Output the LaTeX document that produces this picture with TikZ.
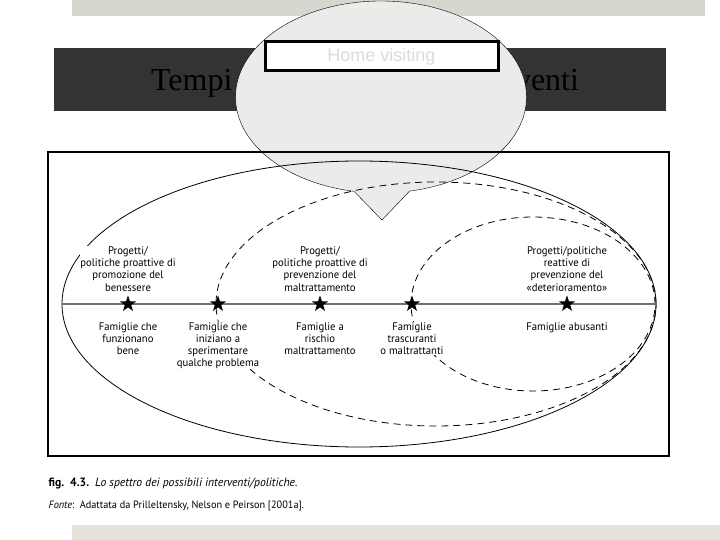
\documentclass[tikz,border=0pt]{standalone}
\usepackage{fontspec}
\usepackage{xcolor}
\usepackage{tikz}
\usetikzlibrary{positioning,shapes.geometric,shapes.callouts}
\setmainfont{Liberation Serif}
\newfontfamily\figfont[FakeStretch=0.97]{PT Sans}
\newfontfamily\boxfont{Liberation Sans}
\definecolor{barcolor}{HTML}{D6D8CF}
\definecolor{footcolor}{HTML}{E3E3DB}
\definecolor{bandcolor}{HTML}{333333}
\definecolor{bubblecolor}{HTML}{EBEBEA}
\definecolor{axiscolor}{HTML}{707070}
\definecolor{ghosttext}{HTML}{DCDCDC}

\begin{document}
\begin{tikzpicture}[x=1pt,y=-1pt,
    starmark/.style={star,star points=5,star point ratio=2.5,fill=black,inner sep=0pt,minimum size=17pt},
    uplabel/.style={font=\figfont\fontsize{11}{12.2}\selectfont,align=center,inner sep=0.5pt,fill=white},
    homebox/.style={draw,line width=3pt,fill=white,minimum width=233pt,minimum height=29pt,inner sep=0pt,
        text=ghosttext,font=\boxfont\fontsize{18}{20}\selectfont},
    dashring/.style={dash pattern=on 7pt off 5pt,line width=0.8pt}]
    \useasboundingbox (0,0) rectangle (720,540);
    % slide background
    \fill[barcolor] (72,0) rectangle (705,16);
    \fill[footcolor] (72,525) rectangle (720,540);
    \fill[bandcolor] (54,48) rectangle (666,111);
    \node[font=\fontsize{32}{38}\selectfont,anchor=base] (title) at (365,91) {Tempi e tipologie degli interventi};
    % callout
    \node[ellipse callout,draw=black,fill=bubblecolor,thin,minimum width=291pt,minimum height=192pt,inner sep=0pt,
        callout absolute pointer={(382,220)},callout pointer arc=22] (bubble) at (381,97) {};
    \node[homebox] (home) at (381.5,56.5) {Home visiting};
    % figure
    \draw[line width=1.3pt] (48,152) rectangle (669,456);
    \draw[line width=0.8pt] (359,304) ellipse [x radius=297pt,y radius=143pt];
    \draw[dashring] (436,304) ellipse [x radius=220pt,y radius=122pt];
    \draw[dashring] (533,304) ellipse [x radius=122pt,y radius=87pt];
    \draw[axiscolor,line width=1.5pt] (62,304) -- (656,304);
    \node[starmark] (s1) at (128,304) {};
    \node[starmark] (s2) at (218,304) {};
    \node[starmark] (s3) at (320,304) {};
    \node[starmark] (s4) at (412,304) {};
    \node[starmark] (s5) at (567,304) {};
    \node[uplabel,above=3pt of s1] (p1) {Progetti/\\politiche proattive di\\promozione del\\benessere};
    \node[uplabel,above=3pt of s3] (p3) {Progetti/\\politiche proattive di\\prevenzione del\\maltrattamento};
    \node[uplabel,above=3pt of s5] (p5) {Progetti/politiche\\reattive di\\prevenzione del\\«deterioramento»};
    \node[uplabel,below=14pt of s1] (f1) {Famiglie che\\funzionano\\bene};
    \node[uplabel,below=14pt of s2] (f2) {Famiglie che\\iniziano a\\sperimentare\\qualche problema};
    \node[uplabel,below=14pt of s3] (f3) {Famiglie a\\rischio\\maltrattamento};
    \node[uplabel,below=14pt of s4] (f4) {Famiglie\\trascuranti\\o maltrattanti};
    \node[uplabel,below=14pt of s5] (f5) {Famiglie abusanti};
    % caption
    \node[uplabel,anchor=base west,font=\figfont\fontsize{12}{14}\selectfont] (cap) at (48,486) {\bfseries fig.\enspace4.3.\enspace\mdseries\itshape Lo spettro dei possibili interventi/politiche.};
    \node[uplabel,anchor=base west,font=\figfont\fontsize{10.6}{12}\selectfont] (src) at (48,508) {\itshape Fonte\upshape:\enspace Adattata da Prilleltensky, Nelson e Peirson [2001a].};
\end{tikzpicture}
\end{document}
